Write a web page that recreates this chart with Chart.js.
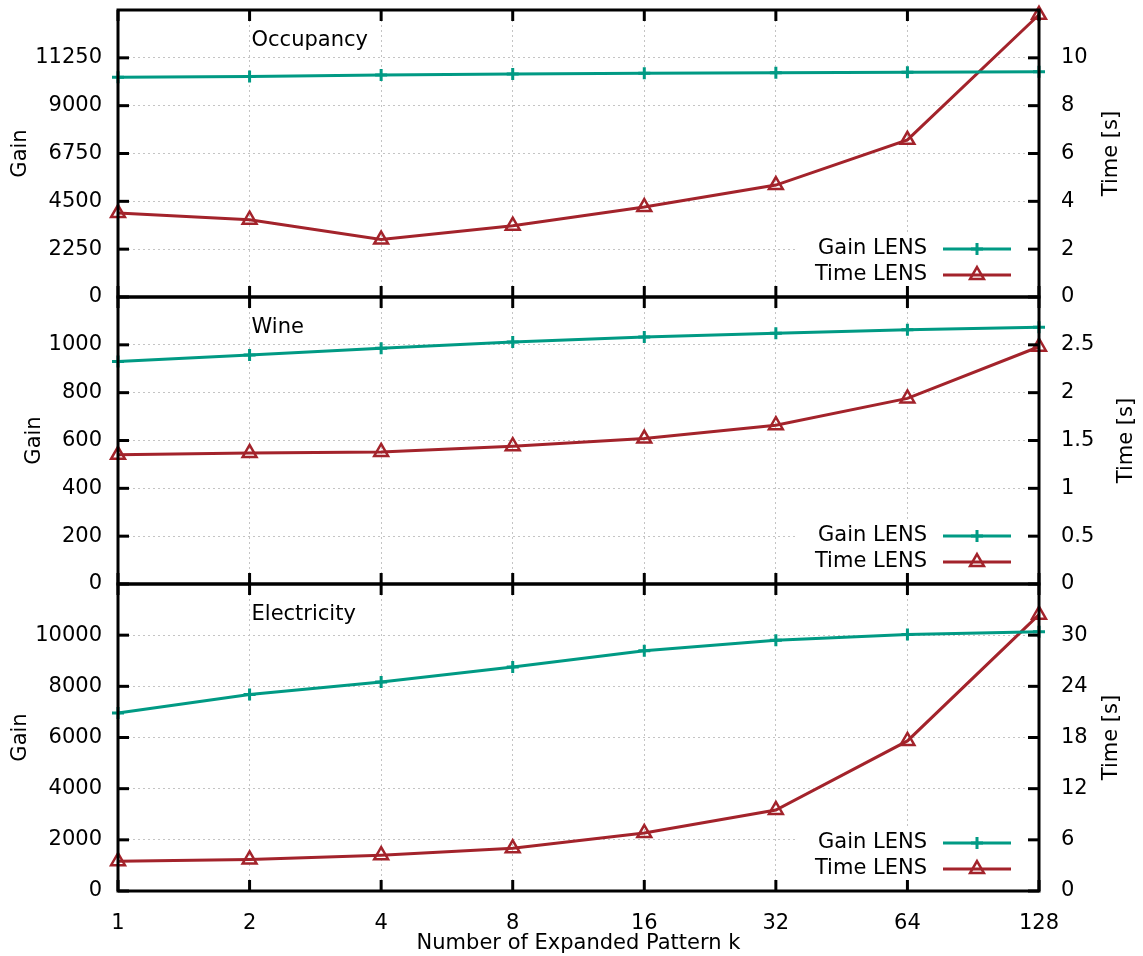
<!DOCTYPE html>
<html>
<head>
<meta charset="utf-8">
<script src="https://cdn.jsdelivr.net/npm/chart.js@4.4.1/dist/chart.umd.min.js"></script>
<style>
  body { margin: 0; background: #fff; overflow: hidden; }
  #wrap { position: relative; width: 1143px; height: 956px; background: #fff; overflow: hidden; }
  #wrap canvas { position: absolute; left: 0; }
</style>
</head>
<body>
<div id="wrap">
  <canvas id="occChart" width="1143" height="359" style="top:-26px"></canvas>
  <canvas id="wineChart" width="1143" height="359" style="top:261px"></canvas>
  <canvas id="elecChart" width="1143" height="408" style="top:548px"></canvas>
</div>
<script>
// k values on the x axis
const kLabels = ['1', '2', '4', '8', '16', '32', '64', '128'];

// Occupancy
const occGain = [10340, 10370, 10440, 10490, 10520, 10545, 10570, 10600];
const occTime = [3.51, 3.23, 2.40, 2.98, 3.76, 4.68, 6.57, 11.8];
const occGainTicks = [0, 2250, 4500, 6750, 9000, 11250, 13500];
const occTimeTicks = [0, 2, 4, 6, 8, 10, 12];

// Wine
const wineGain = [930, 958, 986, 1012, 1033, 1048, 1063, 1074];
const wineTime = [1.35, 1.37, 1.38, 1.44, 1.52, 1.66, 1.94, 2.48];
const wineGainTicks = [0, 200, 400, 600, 800, 1000, 1200];
const wineTimeTicks = [0, 0.5, 1, 1.5, 2, 2.5, 3];

// Electricity
const elecGain = [6960, 7680, 8170, 8760, 9390, 9800, 10030, 10130];
const elecTime = [3.5, 3.7, 4.2, 5.0, 6.8, 9.5, 17.6, 32.4];
const elecGainTicks = [0, 2000, 4000, 6000, 8000, 10000, 12000];
const elecTimeTicks = [0, 6, 12, 18, 24, 30, 36];

const GAIN_COLOR = '#009a84';
const TIME_COLOR = '#a3232b';

Chart.defaults.font.family = "'DejaVu Sans', sans-serif";
Chart.defaults.font.size = 21;
Chart.defaults.color = '#000';

// gnuplot-like frame: thick border, inward ticks, panel title, right axis title and legend
const framePlugin = {
  id: 'gnuFrame',
  beforeDatasetsDraw(chart) {
    const { ctx, chartArea: a } = chart;
    // white legend box hides the grid behind it
    ctx.save();
    ctx.fillStyle = '#fff';
    ctx.fillRect(a.right - 241, a.bottom - 64, 233, 58);
    ctx.restore();
  },
  afterDatasetsDraw(chart, args, opts) {
    const { ctx, chartArea: a, scales } = chart;
    const tl = 11;
    ctx.save();
    ctx.strokeStyle = '#000';
    ctx.lineWidth = 3;
    ctx.lineCap = 'butt';

    const line = (x1, y1, x2, y2) => {
      ctx.beginPath();
      ctx.moveTo(x1, y1);
      ctx.lineTo(x2, y2);
      ctx.stroke();
    };

    scales.x.ticks.forEach((t, i) => {
      const x = scales.x.getPixelForTick(i);
      line(x, a.bottom, x, a.bottom - tl);
      line(x, a.top, x, a.top + tl);
    });
    scales.yGain.ticks.forEach((t) => {
      const y = scales.yGain.getPixelForValue(t.value);
      line(a.left, y, a.left + tl, y);
    });
    scales.yTime.ticks.forEach((t) => {
      const y = scales.yTime.getPixelForValue(t.value);
      line(a.right, y, a.right - tl, y);
    });
    ctx.strokeRect(a.left, a.top, a.right - a.left, a.bottom - a.top);

    ctx.fillStyle = '#000';
    ctx.font = "21px 'DejaVu Sans', sans-serif";
    ctx.textBaseline = 'middle';

    // panel title
    ctx.textAlign = 'left';
    ctx.fillText(opts.title, a.left + 0.145 * (a.right - a.left), a.top + 31);

    // right axis title, reading upwards like the left one
    ctx.save();
    ctx.translate(a.right + opts.timeTitleOffset, (a.top + a.bottom) / 2);
    ctx.rotate(-Math.PI / 2);
    ctx.textAlign = 'center';
    ctx.fillText('Time [s]', 0, 0);
    ctx.restore();

    // legend, bottom right
    chart.data.datasets.forEach((ds, i) => {
      const y = a.bottom - 48 + i * 26;
      ctx.fillStyle = '#000';
      ctx.textAlign = 'right';
      ctx.fillText(ds.label, a.right - 112, y);
      ctx.strokeStyle = ds.borderColor;
      ctx.lineWidth = 3;
      line(a.right - 96, y, a.right - 28, y);
      ctx.fillStyle = 'rgba(0,0,0,0)';
      ctx.lineWidth = ds.pointBorderWidth;
      Chart.helpers.drawPoint(ctx, {
        pointStyle: ds.pointStyle,
        radius: ds.pointRadius,
        borderWidth: ds.pointBorderWidth,
        rotation: 0
      }, a.right - 62, y);
    });
    ctx.restore();
  }
};

function makePanel(id, title, gainData, timeData, gainTicks, timeTicks, lay, showX) {
  const ctx = document.getElementById(id).getContext('2d');
  const gainMax = gainTicks[gainTicks.length - 1];
  const timeMax = timeTicks[timeTicks.length - 1];

  return new Chart(ctx, {
    type: 'line',
    data: {
      labels: kLabels,
      datasets: [
        {
          label: 'Gain LENS',
          data: gainData,
          yAxisID: 'yGain',
          borderColor: GAIN_COLOR,
          backgroundColor: GAIN_COLOR,
          borderWidth: 3,
          pointStyle: 'cross',
          pointRadius: 6,
          pointBorderWidth: 3,
          pointBorderColor: GAIN_COLOR,
          tension: 0,
          clip: false,
        },
        {
          label: 'Time LENS',
          data: timeData,
          yAxisID: 'yTime',
          borderColor: TIME_COLOR,
          backgroundColor: 'rgba(0,0,0,0)',
          borderWidth: 3,
          pointStyle: 'triangle',
          pointRadius: 8,
          pointBorderWidth: 2.5,
          pointBorderColor: TIME_COLOR,
          pointBackgroundColor: 'rgba(0,0,0,0)',
          tension: 0,
          clip: false,
        },
      ],
    },
    options: {
      responsive: false,
      animation: false,
      devicePixelRatio: 1,
      layout: { padding: lay.padding },
      plugins: {
        legend: { display: false },
        tooltip: { enabled: false },
        gnuFrame: { title: title, timeTitleOffset: lay.timeTitleOffset },
      },
      scales: {
        x: {
          type: 'category',
          offset: false,
          grid: { color: '#c4c4c4', lineWidth: 1, drawTicks: false },
          border: { display: false, dash: [2, 3] },
          ticks: { display: showX, padding: 20, autoSkip: false, maxRotation: 0 },
          title: {
            display: showX,
            text: 'Number of Expanded Pattern k',
            padding: { top: 0, bottom: 0 },
          },
          afterFit: (scale) => { scale.height = showX ? 65 : 0; },
        },
        yGain: {
          type: 'linear',
          position: 'left',
          min: 0,
          max: gainMax,
          afterBuildTicks: (scale) => { scale.ticks = gainTicks.map((v) => ({ value: v })); },
          ticks: {
            padding: 16,
            callback: (v) => (v === gainMax ? null : String(v)),
          },
          grid: { color: '#c4c4c4', lineWidth: 1, drawTicks: false },
          border: { display: false, dash: [2, 3] },
          title: { display: true, text: 'Gain' },
          afterFit: (scale) => { scale.width = lay.gainWidth; },
        },
        yTime: {
          type: 'linear',
          position: 'right',
          min: 0,
          max: timeMax,
          afterBuildTicks: (scale) => { scale.ticks = timeTicks.map((v) => ({ value: v })); },
          ticks: {
            padding: 22,
            callback: (v) => (v === timeMax ? null : String(v)),
          },
          grid: { display: false, drawTicks: false },
          border: { display: false },
          title: { display: false },
          afterFit: (scale) => { scale.width = lay.timeWidth; },
        },
      },
    },
    plugins: [framePlugin],
  });
}

makePanel('occChart', 'Occupancy', occGain, occTime, occGainTicks, occTimeTicks,
  { padding: { left: 4, right: 15, top: 36, bottom: 36 }, gainWidth: 114, timeWidth: 89, timeTitleOffset: 73 }, false);

makePanel('wineChart', 'Wine', wineGain, wineTime, wineGainTicks, wineTimeTicks,
  { padding: { left: 18, right: 0, top: 36, bottom: 36 }, gainWidth: 100, timeWidth: 104, timeTitleOffset: 88 }, false);

makePanel('elecChart', 'Electricity', elecGain, elecTime, elecGainTicks, elecTimeTicks,
  { padding: { left: 4, right: 15, top: 36, bottom: 0 }, gainWidth: 114, timeWidth: 89, timeTitleOffset: 73 }, true);
</script>
</body>
</html>
